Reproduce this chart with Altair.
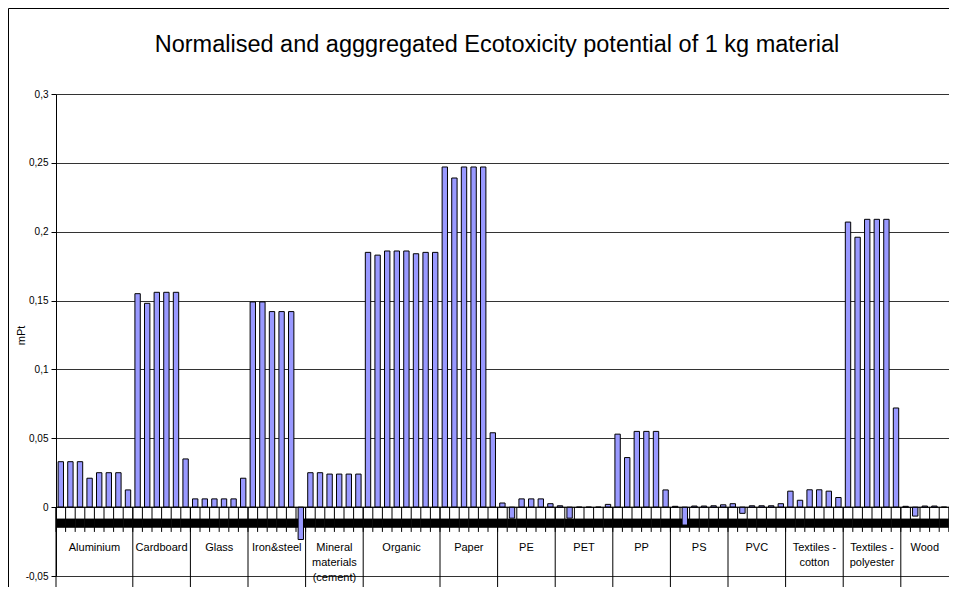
import altair as alt
import pandas as pd

title_text = "Normalised and agggregated Ecotoxicity potential of 1 kg material"

categories = ["Aluminium", "Cardboard", "Glass", "Iron&steel", "Mineral\nmaterials\n(cement)",
              "Organic", "Paper", "PE", "PET", "PP", "PS", "PVC",
              "Textiles -\ncotton", "Textiles -\npolyester", "Wood"]

aluminium = [0.033, 0.033, 0.033, 0.021, 0.025, 0.025, 0.025, 0.0125]
cardboard = [0.155, 0.148, 0.156, 0.156, 0.156, 0.035]
glass = [0.006, 0.006, 0.006, 0.006, 0.006, 0.021]
iron_steel = [0.149, 0.149, 0.142, 0.142, 0.142, -0.0235]
mineral = [0.025, 0.025, 0.024, 0.024, 0.024, 0.024]
organic = [0.185, 0.183, 0.186, 0.186, 0.186, 0.184, 0.185, 0.185]
paper = [0.247, 0.239, 0.247, 0.247, 0.247, 0.054]
pe = [0.003, -0.008, 0.006, 0.006, 0.006, 0.0025]
pet = [0.001, -0.008, 0.0, 0.0, 0.0, 0.002]
pp = [0.053, 0.036, 0.055, 0.055, 0.055, 0.0125]
ps = [0.0006, -0.013, 0.0008, 0.0008, 0.001, 0.0017]
pvc = [0.0025, -0.0045, 0.001, 0.001, 0.001, 0.0025]
textiles_cotton = [0.0116, 0.005, 0.0126, 0.0126, 0.0116, 0.007]
textiles_polyester = [0.207, 0.196, 0.209, 0.209, 0.209, 0.072]
wood = [0.0006, -0.0065, 0.0008, 0.0008, 0.0]

series = [aluminium, cardboard, glass, iron_steel, mineral, organic, paper, pe, pet,
          pp, ps, pvc, textiles_cotton, textiles_polyester, wood]

y_ticks = [-0.05, 0.0, 0.05, 0.1, 0.15, 0.2, 0.25, 0.3]

# build tables
bar_rows, slot_rows, cat_rows, sep_rows = [], [], [], []
pos = 0
for cat, vals in zip(categories, series):
    sep_rows.append({"x": pos})
    cat_rows.append({"cat": cat, "xc": pos + len(vals) / 2})
    for v in vals:
        bar_rows.append({"cat": cat, "x0": pos + 0.22, "x1": pos + 0.78, "v": v})
        slot_rows.append({"s0": pos, "s1": pos + 1})
        pos += 1
slot_rows.append({"s0": pos, "s1": pos})
total = pos

bars_df = pd.DataFrame(bar_rows)
slots_df = pd.DataFrame(slot_rows)
cats_df = pd.DataFrame(cat_rows)
seps_df = pd.DataFrame(sep_rows)

FONT = "Liberation Sans"
XMAX = total + 0.02
W = 893
xs = alt.Scale(domain=[0, XMAX], nice=False, zero=False)
ys = alt.Scale(domain=[-0.05, 0.3], nice=False, zero=False)

label_expr = "replace(replace(format(datum.value, '~g'), '.', ','), '\u2212', '-')"

base_y_axis = alt.Axis(values=y_ticks, labelExpr=label_expr, grid=True, gridColor="#333333",
                       gridWidth=1, domainColor="black", tickColor="black", tickSize=5,
                       labelPadding=3, labelFont=FONT, labelFontSize=10, labelColor="black",
                       title="mPt", titleFont=FONT, titleFontSize=11, titleFontWeight="normal",
                       titleColor="black", titleX=-30, titleY=241)

# band (compressed inner labels)
band = alt.Chart(slots_df[slots_df.s1 > slots_df.s0]).mark_rect(color="black").encode(
    x=alt.X("s0:Q", scale=xs, axis=None),
    x2="s1:Q",
    y=alt.Y("lo:Q", scale=ys, axis=base_y_axis),
    y2="hi:Q",
).transform_calculate(lo="-0.0083", hi="-0.0150")

ticks = alt.Chart(slots_df).mark_rule(color="black", strokeWidth=1).encode(
    x=alt.X("s0:Q", scale=xs, axis=None),
    y=alt.Y("a:Q", scale=ys),
    y2="b:Q",
).transform_calculate(a="0", b="-0.018")

seps = alt.Chart(seps_df).mark_rule(color="black", strokeWidth=1).encode(
    x=alt.X("x:Q", scale=xs, axis=None),
    y=alt.Y("a:Q", scale=ys),
    y2="b:Q",
).transform_calculate(a="0", b="-0.058")

zero_line = alt.Chart(pd.DataFrame({"x0": [0], "x1": [XMAX], "y": [0.0]})).mark_rule(
    color="black", strokeWidth=1).encode(
    x=alt.X("x0:Q", scale=xs, axis=None), x2="x1:Q", y=alt.Y("y:Q", scale=ys))

bars = alt.Chart(bars_df).mark_bar(fill="#9999ff", stroke="black", strokeWidth=1).encode(
    x=alt.X("x0:Q", scale=xs, axis=None),
    x2="x1:Q",
    y=alt.Y("v:Q", scale=ys),
    y2=alt.datum(0),
)

labels = alt.Chart(cats_df).mark_text(font=FONT, fontSize=11, color="black", lineBreak="\n",
                                      lineHeight=15, baseline="middle", align="center").encode(
    x=alt.X("xc:Q", scale=xs, axis=None),
    y=alt.Y("yl:Q", scale=ys),
    text="cat:N",
).transform_calculate(yl="-0.0298")

title = alt.Chart(pd.DataFrame({"t": [title_text]})).mark_text(
    font=FONT, fontSize=23.5, color="black", align="center", baseline="middle").encode(
    x=alt.value(441), y=alt.value(-49), text="t:N")

frame_left = alt.Chart(pd.DataFrame({"a": [0]})).mark_rule(color="black", strokeWidth=1).encode(
    x=alt.value(-47.5), y=alt.value(-85.5), y2=alt.value(1200))
frame_top = alt.Chart(pd.DataFrame({"a": [0]})).mark_rule(color="black", strokeWidth=1).encode(
    x=alt.value(-47.5), x2=alt.value(1200), y=alt.value(-85.5))

chart = alt.layer(band, ticks, seps, bars, zero_line, labels, title, frame_left, frame_top).properties(
    width=W, height=482,
    autosize=alt.AutoSizeParams(type="none"),
    padding={"left": 48, "top": 86, "right": 0, "bottom": 11},
).configure_view(stroke=None).configure(background="white")

chart.save("out.html", embed_options={"renderer": "svg", "actions": False})
